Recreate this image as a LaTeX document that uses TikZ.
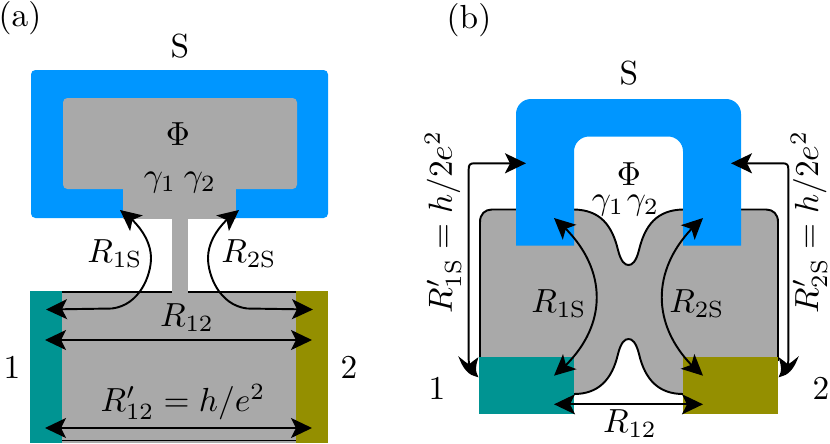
\documentclass[tikz,border=0pt]{standalone}
\usetikzlibrary{arrows.meta,bending}
\definecolor{myblue}{HTML}{0096FF}
\definecolor{mygray}{HTML}{A9A9A9}
\definecolor{myteal}{HTML}{009492}
\definecolor{myolive}{HTML}{948F00}
\tikzset{
  txt/.style={scale=1.9, inner sep=0pt},
  res/.style={line width=1.1pt, {Stealth[length=0.42cm,width=0.40cm,inset=0.10cm,flex=1]}-{Stealth[length=0.42cm,width=0.40cm,inset=0.10cm,flex=1]}},
  resbent/.style={line width=1.1pt, {Stealth[length=0.42cm,width=0.40cm,inset=0.10cm,flex=1]}-{Stealth[length=0.42cm,width=0.40cm,inset=0.10cm,bend]}},
  edge/.style={black, line width=1.1pt}
}
\begin{document}
\begin{tikzpicture}[x=0.02cm, y=-0.02cm]
\useasboundingbox (0,0) rectangle (830,443);

% PANEL A
\node[txt] (labela) at (20,18) {(a)};
\node[txt] (supa) at (180,46) {S};

%%% SUPERCONDUCTOR
\fill[myblue, rounded corners=2.5pt] (31,70) rectangle (328,218);
\fill[mygray, rounded corners=2.5pt] (63,98) rectangle (297,189);
\fill[mygray] (122.5,180) rectangle (236,219);
\fill[mygray] (172,219) rectangle (188,293);

%%% NORMAL REGION
\fill[mygray] (62,292) rectangle (296,443);
\fill[myteal] (30,291) rectangle (62,443);
\fill[myolive] (296,291) rectangle (328,443);
\foreach \i/\j in {62/172,188/296} {
  \draw[edge] (\i,292) -- (\j,292);
}
\draw[edge] (62,440.5) -- (296,440.5);

\node[txt] (phia) at (178,134) {$\Phi$};
\node[txt] (gamaa) at (160,183) {$\gamma_1$};
\node[txt] (gamba) at (200,183) {$\gamma_2$};

%%% RESISTANCES
\coordinate (a1) at (46,309.5);
\coordinate (a2) at (313,309.5);
\coordinate (as1) at (120,210);
\coordinate (as2) at (239,210);
\draw[res] (a1) -- (112,308.5) .. controls (140,305) and (151,275) .. (151,258) .. controls (151,240) and (138,222) .. (as1);
\draw[res] (a2) -- (247,308.5) .. controls (219,305) and (208,275) .. (208,258) .. controls (208,240) and (221,222) .. (as2);
\coordinate (b1) at (45,340);
\coordinate (b2) at (312,340);
\draw[res] (b1) -- (b2);
\coordinate (c1) at (45,428);
\coordinate (c2) at (312,428);
\draw[res] (c1) -- (c2);

\node[txt] (r1sa) at (115,254) {$R_{1\mathrm{S}}$};
\node[txt] (r2sa) at (249,254) {$R_{2\mathrm{S}}$};
\node[txt] (r12a) at (187,318) {$R_{12}$};
\node[txt] (rpa) at (183,402) {$R'_{12}=h/e^2$};
\node[txt] (onea) at (12,367) {1};
\node[txt] (twoa) at (349,367) {2};

% PANEL B
\node[txt] (labelb) at (469,20) {(b)};
\node[txt] (supb) at (629,73) {S};

%%% NORMAL REGION
\draw[edge, fill=mygray] (480,360) -- (480,222) .. controls (480,214) and (485,209.5) .. (492,209.5) -- (574,209.5)
  .. controls (600,210) and (612,225) .. (618,250) .. controls (621,262) and (625,265) .. (628.5,265)
  .. controls (632,265) and (636,262) .. (639,250) .. controls (645,225) and (657,210) .. (683,209.5)
  -- (766,209.5) .. controls (773,209.5) and (778,214) .. (778,222) -- (778,360) -- (683,394)
  .. controls (659,394) and (645,380) .. (639,354) .. controls (636,342) and (632,339) .. (628.5,339)
  .. controls (625,339) and (621,342) .. (618,354) .. controls (612,380) and (598,394) .. (574,394) -- cycle;

%%% SUPERCONDUCTOR
\fill[myblue] (516,245.7) [rounded corners=8.5pt] -- (516,99) -- (741,99) [sharp corners] -- (741,245.7) -- (683,245.7) [rounded corners=8.5pt] -- (683,136.5) -- (574,136.5) [sharp corners] -- (574,245.7) -- cycle;
\fill[myteal] (479,356.7) rectangle (574,414.3);
\fill[myolive] (683,356.7) rectangle (778,414.3);

\node[txt] (phib) at (629,174) {$\Phi$};
\node[txt] (gamab) at (608,206) {$\gamma_1$};
\node[txt] (gambb) at (643,206) {$\gamma_2$};

%%% RESISTANCES
\coordinate (d1) at (554,218);
\coordinate (d2) at (554,375.7);
\draw[res] (d1) .. controls (611,265) and (611,330) .. (d2);
\coordinate (e1) at (703,218);
\coordinate (e2) at (703,375.7);
\draw[res] (e1) .. controls (648,265) and (648,330) .. (e2);
\coordinate (f1) at (554,404.3);
\coordinate (f2) at (703,404.3);
\draw[res] (f1) -- (f2);

\coordinate (g1) at (526,163.3);
\coordinate (g2) at (479,376);
\draw[resbent] (g1) -- (474,163.3) .. controls (470,163.3) and (468.7,165) .. (468.7,169) -- (468.7,360) .. controls (468.7,370) and (472,376) .. (g2);
\coordinate (h1) at (731,163.3);
\coordinate (h2) at (778,376);
\draw[resbent] (h1) -- (783,163.3) .. controls (787,163.3) and (788.3,165) .. (788.3,169) -- (788.3,360) .. controls (788.3,370) and (785,376) .. (h2);

\node[txt] (r1sb) at (559,304) {$R_{1\mathrm{S}}$};
\node[txt] (r2sb) at (697,304) {$R_{2\mathrm{S}}$};
\node[txt] (r12b) at (630,424) {$R_{12}$};
\node[txt, rotate=90] (rpb1) at (443,222) {$R'_{1\mathrm{S}}=h/2e^2$};
\node[txt, rotate=90] (rpb2) at (809,222) {$R'_{2\mathrm{S}}=h/2e^2$};
\node[txt] (oneb) at (437,388) {1};
\node[txt] (twob) at (821,388) {2};
\end{tikzpicture}
\end{document}
